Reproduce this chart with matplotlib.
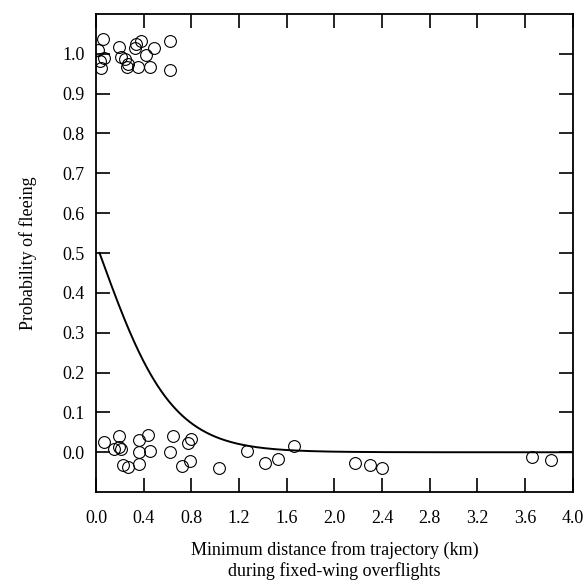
import numpy as np
import matplotlib
matplotlib.use("Agg")
import matplotlib.pyplot as plt

plt.rcParams['font.family'] = ['Liberation Serif', 'DejaVu Serif']

# overflights where the animals fled (plotted jittered around 1.0)
fled_dist = [0.02, 0.06, 0.07, 0.03, 0.04, 0.19, 0.21, 0.24, 0.27, 0.26,
             0.34, 0.33, 0.38, 0.42, 0.35, 0.45, 0.49, 0.62, 0.62]
fled_y = [1.010, 1.038, 0.990, 0.982, 0.965, 1.018, 0.993, 0.987, 0.975, 0.966,
          1.025, 1.015, 1.031, 0.996, 0.967, 0.968, 1.014, 1.031, 0.960]

# overflights with no flight response (jittered around 0.0)
stay_dist = [0.07, 0.15, 0.19, 0.21, 0.19, 0.23, 0.27, 0.36, 0.36, 0.36,
             0.44, 0.45, 0.62, 0.65, 0.72, 0.77, 0.79, 0.80, 1.03, 1.27,
             1.42, 1.53, 1.66, 2.17, 2.30, 2.40, 3.66, 3.82]
stay_y = [0.027, 0.009, 0.012, 0.007, 0.040, -0.032, -0.037, 0.032, 0.000, -0.030,
          0.043, 0.002, 0.000, 0.041, -0.035, 0.023, -0.022, 0.034, -0.040, 0.002,
          -0.027, -0.016, 0.015, -0.027, -0.031, -0.040, -0.012, -0.020]

# fitted logistic model: logit(p) = b0 + b1 * distance
b0, b1 = 0.1, -3.3
x_ticks = np.arange(0, 4.01, 0.4)
y_ticks = np.arange(0, 1.01, 0.1)

fig = plt.figure(figsize=(5.85, 5.81), dpi=100)
ax = fig.add_axes([0.164, 0.153, 0.815, 0.823])

d = np.linspace(0.03, 4.0, 400)
p = 1 / (1 + np.exp(-(b0 + b1 * d)))
ax.plot(d, p, color='black', lw=1.4)

ax.plot(fled_dist, fled_y, 'o', mfc='none', mec='black', ms=8.5, mew=0.8)
ax.plot(stay_dist, stay_y, 'o', mfc='none', mec='black', ms=8.5, mew=0.8)

ax.set_xlim(0, 4.0)
ax.set_ylim(-0.1, 1.1)
ax.set_xticks(x_ticks)
ax.set_yticks(y_ticks)
ax.set_xticklabels(['%.1f' % v for v in x_ticks])
ax.set_yticklabels(['%.1f' % v for v in y_ticks])
ax.tick_params(direction='in', length=10, width=1.2, top=True, right=True,
               labelsize=13)
ax.tick_params(axis='x', pad=13)
ax.tick_params(axis='y', pad=8)
for s in ax.spines.values():
    s.set_linewidth(1.3)

ax.set_xlabel('Minimum distance from trajectory (km)\nduring fixed-wing overflights',
              fontsize=13, labelpad=10, linespacing=1.2)
ax.set_ylabel('Probability of fleeing', fontsize=13, labelpad=18)

fig.savefig('out.png', dpi=100)
